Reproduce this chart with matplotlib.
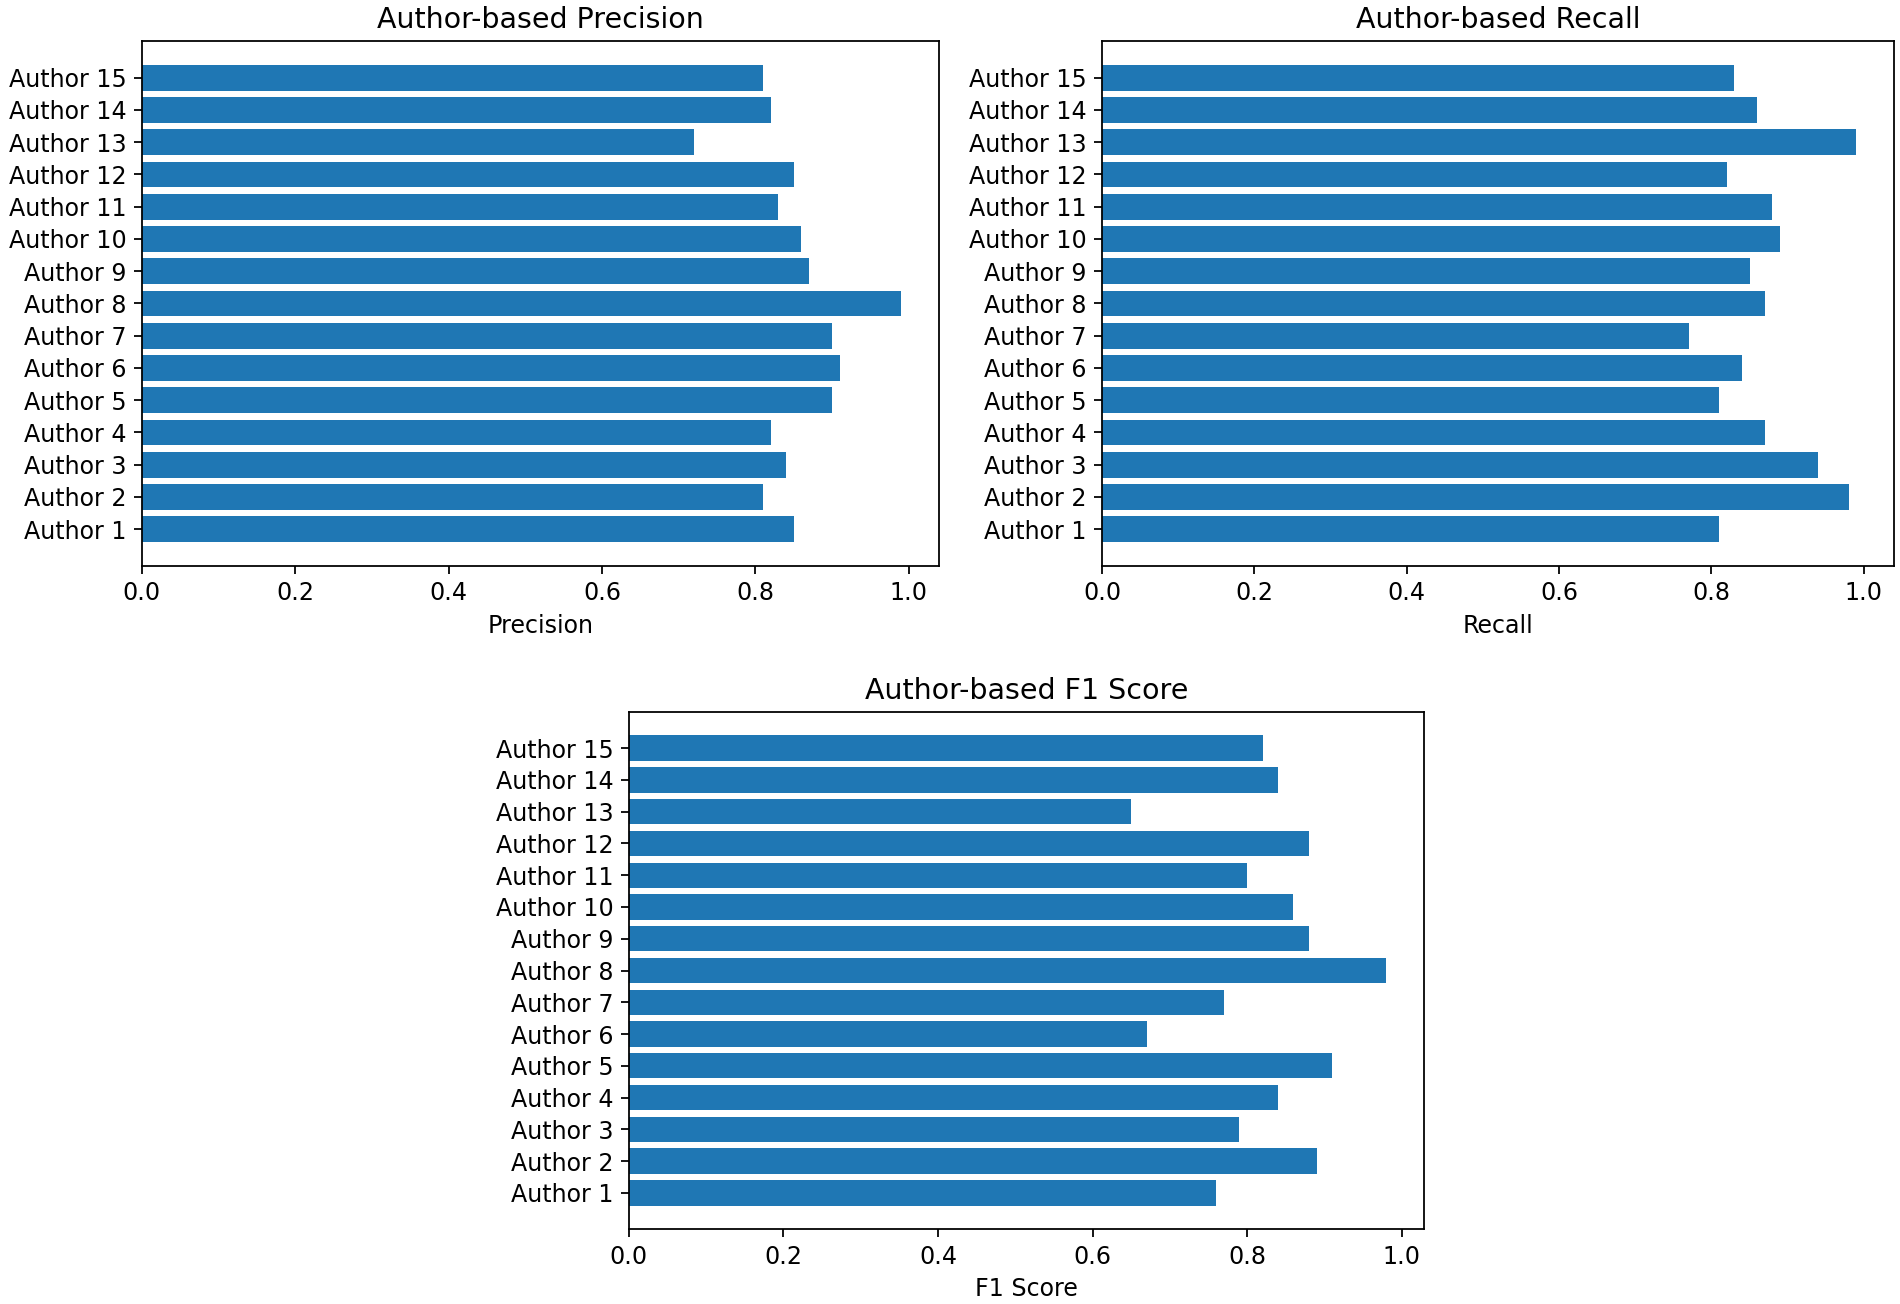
import matplotlib
matplotlib.use('Agg')
import matplotlib.pyplot as plt

authors = ['Author %d' % i for i in range(1, 16)]

precision = [0.85, 0.81, 0.84, 0.82, 0.90, 0.91, 0.90, 0.99, 0.87, 0.86, 0.83, 0.85, 0.72, 0.82, 0.81]
recall = [0.81, 0.98, 0.94, 0.87, 0.81, 0.84, 0.77, 0.87, 0.85, 0.89, 0.88, 0.82, 0.99, 0.86, 0.83]
f1 = [0.76, 0.89, 0.79, 0.84, 0.91, 0.67, 0.77, 0.98, 0.88, 0.86, 0.80, 0.88, 0.65, 0.84, 0.82]

plt.rcParams['font.size'] = 10.7

fig = plt.figure(figsize=(11.875, 8.15), dpi=160)

ax1 = fig.add_axes([0.0747, 0.566, 0.4195, 0.4026])
ax2 = fig.add_axes([0.580, 0.566, 0.4168, 0.4026])
ax3 = fig.add_axes([0.331, 0.0575, 0.4185, 0.3965])

for ax, vals, name in [(ax1, precision, 'Precision'),
                       (ax2, recall, 'Recall'),
                       (ax3, f1, 'F1 Score')]:
    ax.barh(authors, vals, color='#1f77b4')
    ax.set_xlabel(name)
    ax.set_title('Author-based ' + name)

fig.savefig('out.png', dpi=160)
